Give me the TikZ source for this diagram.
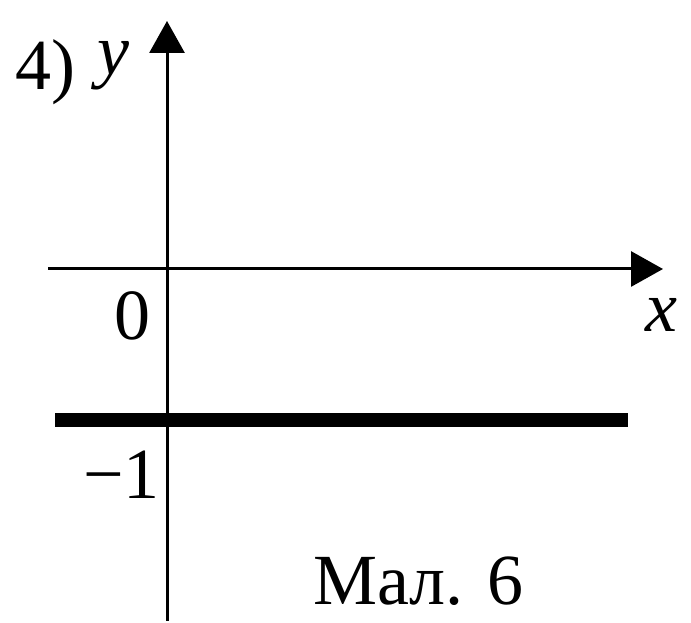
\documentclass[tikz,border=0pt]{standalone}
\usepackage{fontspec}
\setmainfont{Liberation Serif}
\usetikzlibrary{arrows.meta}
\begin{document}
\begin{tikzpicture}[x=1pt,y=1pt,
  axis/.style={line width=3pt,-{Triangle[length=32pt,width=35pt]}},
  lbl/.style={inner sep=0pt,font=\fontsize{72}{80}\selectfont}]
\useasboundingbox (0,0) rectangle (691,623);
\coordinate (yb) at (167,2);
\coordinate (yt) at (167,602);
\coordinate (xl) at (48,354);
\coordinate (xr) at (663,354);
\coordinate (hl) at (55,203);
\coordinate (hr) at (628,203);
\draw[axis] (yb) -- (yt);
\draw[axis] (xl) -- (xr);
\draw[line width=14pt] (hl) -- (hr);
\node[lbl,anchor=base west] (n4) at (15,533) {4)};
\node[lbl,anchor=base west] (ny) at (97,548) {\itshape y};
\node[lbl,anchor=base] (n0) at (132,283) {0};
\node[lbl,anchor=base west] (nx) at (645,291) {\itshape x};
\node[lbl,anchor=base east] (nm1) at (160,124) {−1};
\node[lbl,anchor=base west] (cap) at (313,18) {Мал. 6};
\end{tikzpicture}
\end{document}
